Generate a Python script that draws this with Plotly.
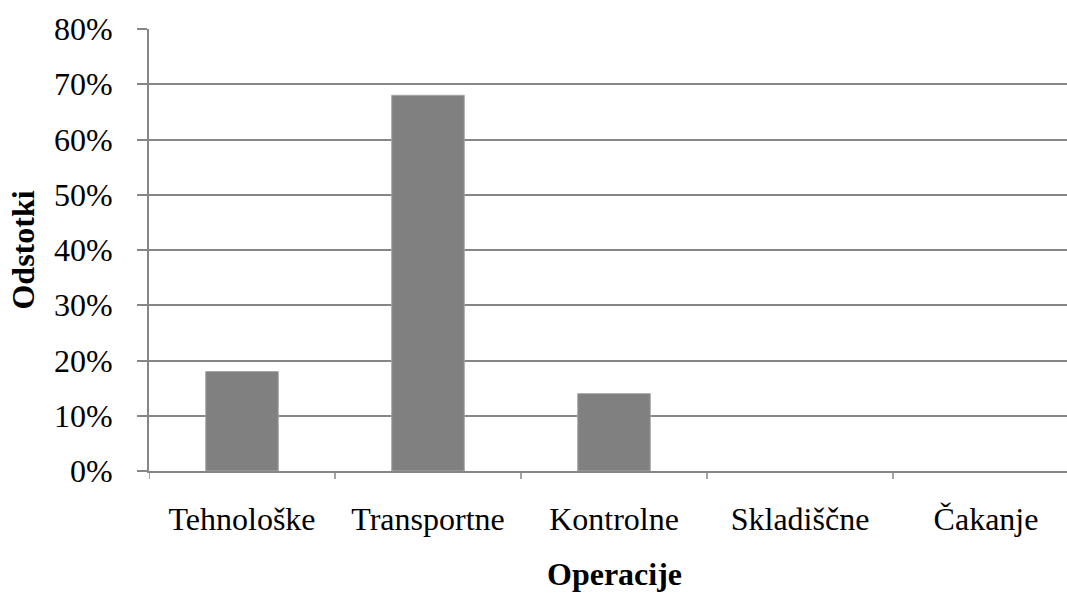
import plotly.graph_objects as go

# Share of operations by type
categories = ["Tehnološke", "Transportne", "Kontrolne", "Skladiščne", "Čakanje"]
shares = [0.18, 0.68, 0.14, 0.0, 0.0]
y_ticks = [0.0, 0.1, 0.2, 0.3, 0.4, 0.5, 0.6, 0.7, 0.8]

axis_grey = "#868686"
font_family = "Liberation Serif, Times New Roman, serif"

fig = go.Figure(
    go.Bar(
        x=list(range(len(categories))),
        y=shares,
        width=0.39,
        marker=dict(
            color="#808080",
            line=dict(color="#a6a6a6", width=[1 if v > 0 else 0 for v in shares]),
        ),
        hoverinfo="skip",
    )
)

fig.update_layout(
    width=1067,
    height=593,
    margin=dict(l=149, r=0, t=29, b=122),
    plot_bgcolor="white",
    paper_bgcolor="white",
    showlegend=False,
    font=dict(family=font_family, size=32, color="black"),
)

fig.update_xaxes(
    range=[-0.5, -0.5 + 918 / 186],
    tickmode="array",
    tickvals=list(range(len(categories))),
    ticktext=categories,
    showgrid=False,
    showline=True,
    linecolor=axis_grey,
    linewidth=2,
    ticks="",
    ticklabelstandoff=19,
    tickfont=dict(size=32),
    zeroline=False,
)

fig.update_yaxes(
    range=[0, 0.8],
    tickmode="array",
    tickvals=y_ticks,
    tickformat=".0%",
    showgrid=True,
    gridcolor=axis_grey,
    gridwidth=1.5,
    showline=True,
    linecolor=axis_grey,
    linewidth=2,
    ticks="outside",
    ticklen=10,
    tickcolor=axis_grey,
    tickwidth=1.5,
    ticklabelstandoff=18,
    tickfont=dict(size=32),
    zeroline=False,
    title=dict(text="<b>Odstotki</b>", font=dict(size=32), standoff=10),
)

# Category boundary ticks below the x-axis
for i in range(len(categories) + 1):
    fig.add_shape(
        type="line",
        xref="x", yref="paper",
        x0=i - 0.5, x1=i - 0.5,
        y0=0, y1=-0.018,
        line=dict(color=axis_grey, width=1.5),
    )

fig.add_annotation(
    text="<b>Operacije</b>",
    xref="x", yref="paper",
    x=2, y=-0.232,
    yanchor="middle",
    showarrow=False,
    font=dict(size=32),
)

fig.write_html("out.html")
